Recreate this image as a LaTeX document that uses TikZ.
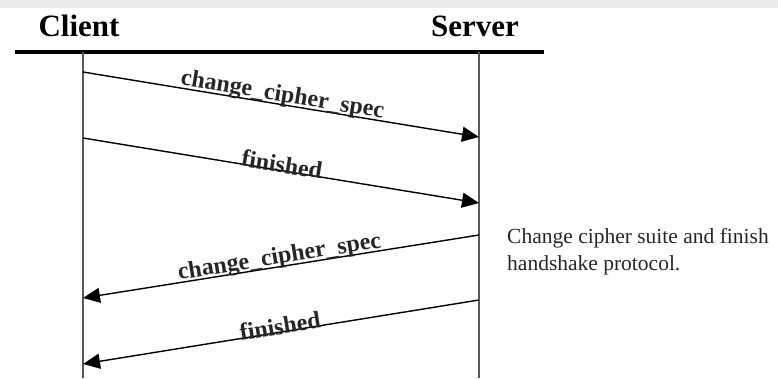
\documentclass[tikz,border=0pt]{standalone}
\usepackage{fontspec}
\setmainfont{Liberation Serif}
\usetikzlibrary{arrows.meta}
\tikzset{
  party/.style={font=\fontsize{31}{36}\selectfont\bfseries, inner sep=0pt, anchor=base},
  lifeline/.style={draw=black!65, line width=1.7pt},
  msg/.style={draw=black, line width=1.4pt, -{Triangle[length=17pt,width=15pt]}},
  msglabel/.style={font=\fontsize{24}{28}\selectfont\bfseries, text=black!85, sloped,
    inner xsep=0pt, inner ysep=-3pt, anchor=south, pos=0.5},
  note/.style={font=\fontsize{21.5}{25}\selectfont, align=left, inner sep=0pt, anchor=north west, text=black!85}
}
\begin{document}
\begin{tikzpicture}[x=1pt, y=-1pt]
  \useasboundingbox (0,0) rectangle (778,378);
  % light band along the top edge
  \fill[black!8] (0,0) rectangle (778,8);

  % participants
  \node[party] (client) at (79,36) {Client};
  \node[party] (server) at (475,36) {Server};

  % header bar
  \coordinate (barL) at (15,52);
  \coordinate (barR) at (544,52);
  \draw[line width=4.5pt] (barL) -- (barR);

  % lifelines
  \coordinate (cTop) at (83,52);
  \coordinate (cBot) at (83,378);
  \coordinate (sTop) at (479,52);
  \coordinate (sBot) at (479,378);
  \draw[lifeline] (cTop) -- (cBot);
  \draw[lifeline] (sTop) -- (sBot);

  % message end points
  \coordinate (c1) at (83,72);   \coordinate (s1) at (479,137);
  \coordinate (c2) at (83,138);  \coordinate (s2) at (479,203);
  \coordinate (s3) at (479,235); \coordinate (c3) at (83,298);
  \coordinate (s4) at (479,300); \coordinate (c4) at (83,364);

  \draw[msg] (c1) -- node[msglabel] {change\_cipher\_spec} (s1);
  \draw[msg] (c2) -- node[msglabel] {finished} (s2);
  \draw[msg] (s3) -- node[msglabel] {change\_cipher\_spec} (c3);
  \draw[msg] (s4) -- node[msglabel] {finished} (c4);

  % side remark
  \node[note] (remark) at (507,228) {Change cipher suite and finish\\[2pt]handshake protocol.};
\end{tikzpicture}
\end{document}
